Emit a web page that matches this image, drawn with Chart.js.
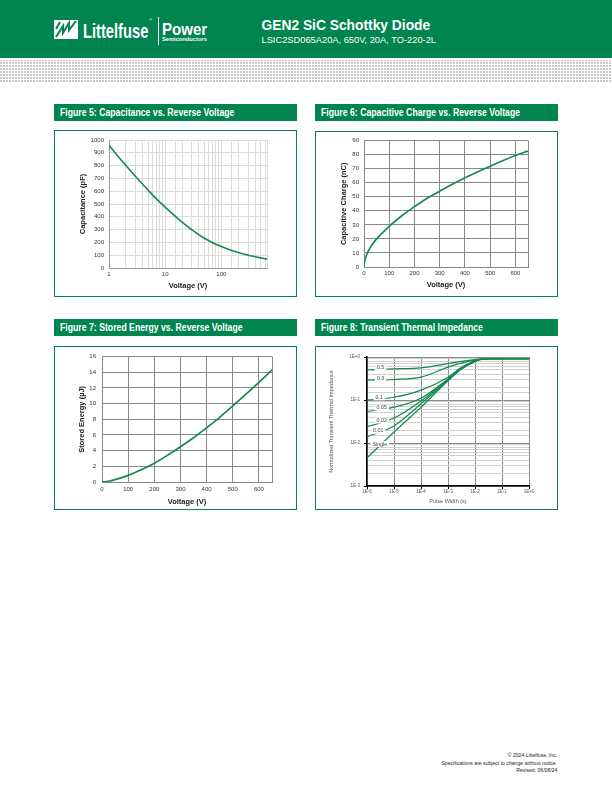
<!DOCTYPE html>
<html>
<head>
<meta charset="utf-8">
<script src="https://cdn.jsdelivr.net/npm/chart.js@4.4.1/dist/chart.umd.min.js"></script>
<style>
  body { margin: 0; width: 612px; height: 792px; position: relative; overflow: hidden; background: #fff;
         font-family: "Liberation Sans", Arial, sans-serif; }
  .abs { position: absolute; white-space: nowrap; }
  .hd { color: #fff; line-height: 1; }
  .header { left: 0; top: 0; width: 612px; height: 58px; background: #008450; }
  .band { left: 0; top: 60px; width: 612px; height: 23px;
          background-image: repeating-linear-gradient(0deg, #fff 0 1px, transparent 1px 3px),
                            repeating-linear-gradient(90deg, #c8c8c8 0 2px, #fff 2px 3px); }
  .cond { display: inline-block; transform-origin: left center; }
  .fig-title { height: 17px; width: 243px; background: #008450; color: #fff; font-weight: bold;
               font-size: 10px; line-height: 17px; }
  .fig-title span { margin-left: 6px; transform: scaleX(0.87); }
  .box { border: 1px solid #008450; width: 241px; }
  canvas { position: absolute; }
  .foot { right: 55px; font-size: 6px; color: #222; text-align: right; transform-origin: right center; transform: scaleX(0.85); }
</style>
</head>
<body>
<div class="abs header"></div>
<div class="abs band"></div>

<!-- logo -->
<svg class="abs" style="left:54px;top:20px" width="24" height="19" viewBox="0 0 24 19">
  <rect x="0" y="0" width="24" height="19" fill="#fff"/>
  <polyline points="2,17 9,6 9,13 15,3 15,10 22,1" fill="none" stroke="#008450" stroke-width="2"/>
  <polyline points="2,9 6,2" fill="none" stroke="#008450" stroke-width="2"/>
</svg>
<div class="abs hd" style="left:83px;top:20.2px;font-weight:bold;font-size:21px;">
  <span class="cond" style="transform:scaleX(0.7)">Littelfuse</span></div>
<div class="abs hd" style="left:149px;top:18px;font-size:4px;">®</div>
<div class="abs" style="left:158px;top:17px;width:1px;height:28px;background:#fff"></div>
<div class="abs hd" style="left:162px;top:21.5px;font-weight:bold;font-size:16px;">
  <span class="cond" style="transform:scaleX(0.94)">Power</span></div>
<div class="abs hd" style="left:162px;top:36.8px;font-weight:bold;font-size:5.5px;">
  <span class="cond" style="transform:scaleX(1.04)">Semiconductors</span></div>

<div class="abs hd" style="left:261.5px;top:19px;font-weight:bold;font-size:13.8px;">GEN2 SiC Schottky Diode</div>
<div class="abs hd" style="left:261.5px;top:36.4px;font-size:9.3px;">LSIC2SD065A20A, 650V, 20A, TO-220-2L</div>

<!-- figure titles and frames -->
<div class="abs fig-title" style="left:54px;top:104px"><span class="cond">Figure 5: Capacitance vs. Reverse Voltage</span></div>
<div class="abs fig-title" style="left:315px;top:104px"><span class="cond">Figure 6: Capacitive Charge vs. Reverse Voltage</span></div>
<div class="abs fig-title" style="left:54px;top:319px"><span class="cond">Figure 7: Stored Energy vs. Reverse Voltage</span></div>
<div class="abs fig-title" style="left:315px;top:319px"><span class="cond">Figure 8: Transient Thermal Impedance</span></div>

<div class="abs box" style="left:54px;top:130px;height:165px"></div>
<div class="abs box" style="left:315px;top:131px;height:164px"></div>
<div class="abs box" style="left:54px;top:346px;height:162px"></div>
<div class="abs box" style="left:315px;top:346px;height:162px"></div>

<canvas id="fig5" width="241" height="165" style="left:55px;top:131px"></canvas>
<canvas id="fig6" width="241" height="164" style="left:316px;top:132px"></canvas>
<canvas id="fig7" width="241" height="162" style="left:55px;top:347px"></canvas>
<canvas id="fig8" width="241" height="162" style="left:316px;top:347px"></canvas>

<div class="abs foot" style="top:752px">© 2024 Littelfuse, Inc.</div>
<div class="abs foot" style="top:759.5px">Specifications are subject to change without notice.</div>
<div class="abs foot" style="top:767px">Revised: 06/08/24</div>

<script>
// Figure 5 : capacite vs tension (axe x log)
const fig5Voltage = [1, 2, 3, 5, 7, 10, 15, 20, 30, 50, 70, 100, 150, 200, 300, 400, 500, 650];
const fig5Capacitance = [958, 800, 713, 607, 540, 475, 405, 358, 298, 232, 198, 168, 138, 121, 100, 88, 79, 69];

// Figure 6 : charge capacitive
const fig6Voltage = [0, 2, 5, 10, 25, 50, 100, 150, 200, 250, 300, 400, 500, 600, 650];
const fig6Charge = [0, 3.5, 5.8, 8.4, 14, 20, 29, 36.5, 43, 49, 54, 63.5, 71.8, 79.4, 82.5];

// Figure 7 : energie stockee
const fig7Voltage = [0, 25, 50, 100, 150, 200, 250, 300, 350, 400, 450, 500, 550, 600, 650];
const fig7Energy = [0, 0.1, 0.3, 0.85, 1.55, 2.4, 3.4, 4.5, 5.65, 6.9, 8.25, 9.7, 11.2, 12.7, 14.3];

// graduations de tension communes aux figures 6 et 7
const voltTicks = [0, 100, 200, 300, 400, 500, 600, 650];

// Figure 8 : impedance thermique transitoire
const fig8PulseWidth = [1e-6, 1e-5, 1e-4, 1e-3, 3e-3, 1e-2, 2e-2, 4e-2, 1e-1, 1];
const fig8Duty = ['0.5', '0.3', '0.1', '0.05', '0.02', '0.01', 'Single'];
const z05 = [0.50, 0.53, 0.56, 0.70, 0.79, 0.87, 0.91, 0.92, 0.92, 0.92];
const z03 = [0.29, 0.30, 0.34, 0.58, 0.72, 0.85, 0.905, 0.92, 0.92, 0.92];
const z01 = [0.10, 0.116, 0.17, 0.34, 0.56, 0.82, 0.90, 0.92, 0.92, 0.92];
const z005 = [0.054, 0.068, 0.11, 0.31, 0.54, 0.81, 0.90, 0.92, 0.92, 0.92];
const z002 = [0.024, 0.038, 0.095, 0.30, 0.53, 0.80, 0.90, 0.92, 0.92, 0.92];
const z001 = [0.014, 0.025, 0.082, 0.29, 0.52, 0.80, 0.90, 0.92, 0.92, 0.92];
const zSingle = [0.0045, 0.018, 0.068, 0.28, 0.51, 0.79, 0.90, 0.92, 0.92, 0.92];
const fig8Curves = [z05, z03, z01, z005, z002, z001, zSingle];
const fig8LabelAt = [3.2e-6, 3.2e-6, 2.8e-6, 3.5e-6, 3.5e-6, 2.6e-6, 3e-6];

const LINE = '#138a4e';
const FONT = '"Liberation Sans", Arial, sans-serif';
Chart.defaults.font.family = FONT;
Chart.defaults.color = '#333';

const isPow10 = v => {
  const e = Math.round(Math.log10(v));
  return Math.abs(v / Math.pow(10, e) - 1) < 1e-6;
};
const sciLabel = v => {
  const e = Math.round(Math.log10(v));
  return '1E' + (e >= 0 ? '+' : '-') + Math.abs(e);
};
const pairs = (xs, ys) => xs.map((x, i) => ({ x: x, y: ys[i] }));

const baseOptions = (pad) => ({
  responsive: false,
  animation: false,
  layout: { padding: pad },
  plugins: { legend: { display: false }, tooltip: { enabled: false } },
});

const axisTitle = (text) => ({
  display: true, text: text, padding: 0, color: '#222',
  font: { size: 7.5, weight: 'bold' },
});

const voltAxis = (xHeight, pad) => ({
  type: 'linear', min: 0, max: 650,
  afterFit: (s) => { s.height = xHeight; },
  afterBuildTicks: (s) => { s.ticks = voltTicks.map((v) => ({ value: v })); },
  grid: { color: '#888', drawTicks: false },
  border: { color: '#888' },
  ticks: {
    autoSkip: false, maxRotation: 0, padding: pad, font: { size: 6 },
    callback: (v) => (v % 100 === 0 ? String(v) : ''),
  },
  title: axisTitle('Voltage (V)'),
});

// Figure 5
new Chart(document.getElementById('fig5'), {
  type: 'line',
  data: {
    datasets: [{
      data: pairs(fig5Voltage, fig5Capacitance),
      borderColor: LINE, borderWidth: 1.6, pointRadius: 0, cubicInterpolationMode: 'monotone',
    }],
  },
  options: {
    ...baseOptions({ left: 23, top: 9, right: 29, bottom: 5.5 }),
    scales: {
      x: {
        type: 'logarithmic', min: 1, max: 650,
        afterFit: (s) => { s.height = 22.5; },
        grid: { color: '#dcdcdc', drawTicks: false },
        border: { color: '#999' },
        ticks: {
          autoSkip: false, maxRotation: 0, padding: 3, font: { size: 6 },
          callback: (v) => (isPow10(v) ? String(v) : ''),
        },
        title: axisTitle('Voltage (V)'),
      },
      y: {
        min: 0, max: 1000,
        afterFit: (s) => { s.width = 31; },
        grid: { color: '#dcdcdc', drawTicks: false },
        border: { color: '#999' },
        ticks: { stepSize: 100, padding: 5, font: { size: 6 }, callback: (v) => String(v) },
        title: axisTitle('Capacitance (pF)'),
      },
    },
  },
});

// Figure 6
new Chart(document.getElementById('fig6'), {
  type: 'line',
  data: {
    datasets: [{
      data: pairs(fig6Voltage, fig6Charge),
      borderColor: LINE, borderWidth: 1.7, pointRadius: 0, cubicInterpolationMode: 'monotone',
    }],
  },
  options: {
    ...baseOptions({ left: 23.5, top: 8, right: 29, bottom: 6.5 }),
    scales: {
      x: voltAxis(22.5, 3),
      y: {
        min: 0, max: 90,
        afterFit: (s) => { s.width = 24.5; },
        grid: { color: '#888', drawTicks: false },
        border: { color: '#888' },
        ticks: { stepSize: 10, padding: 5, font: { size: 6 } },
        title: axisTitle('Capacitive Charge (nC)'),
      },
    },
  },
});

// Figure 7
new Chart(document.getElementById('fig7'), {
  type: 'line',
  data: {
    datasets: [{
      data: pairs(fig7Voltage, fig7Energy),
      borderColor: LINE, borderWidth: 1.7, pointRadius: 0, cubicInterpolationMode: 'monotone',
    }],
  },
  options: {
    ...baseOptions({ left: 22.5, top: 3, right: 24, bottom: 2.5 }),
    scales: {
      x: voltAxis(24.5, 4),
      y: {
        min: 0, max: 16,
        afterFit: (s) => { s.width = 24.5; },
        grid: { color: '#888', drawTicks: false },
        border: { color: '#888' },
        ticks: { stepSize: 2, padding: 6, font: { size: 6 } },
        title: axisTitle('Stored Energy (µJ)'),
      },
    },
  },
});

// Etiquettes posees sur les courbes de la figure 8
const curveLabels = {
  id: 'curveLabels',
  afterDatasetsDraw(chart) {
    const { ctx } = chart;
    const xs = chart.scales.x;
    ctx.save();
    ctx.font = '5.3px ' + FONT;
    ctx.textAlign = 'center';
    ctx.textBaseline = 'middle';
    chart.data.datasets.forEach((ds, i) => {
      const pts = chart.getDatasetMeta(i).data;
      const px = xs.getPixelForValue(fig8LabelAt[i]);
      let py = pts[0].y;
      for (let k = 1; k < pts.length; k++) {
        if (pts[k].x >= px) {
          const a = pts[k - 1], b = pts[k];
          py = a.y + (b.y - a.y) * (px - a.x) / (b.x - a.x);
          break;
        }
      }
      py -= 1.5;
      const w = ctx.measureText(ds.label).width + 4;
      ctx.fillStyle = '#fff';
      ctx.fillRect(px - w / 2, py - 3, w, 6);
      ctx.fillStyle = '#444';
      ctx.fillText(ds.label, px, py);
    });
    ctx.restore();
  },
};

// Figure 8
new Chart(document.getElementById('fig8'), {
  type: 'line',
  data: {
    datasets: fig8Curves.map((c, i) => ({
      label: fig8Duty[i],
      data: pairs(fig8PulseWidth, c),
      borderColor: LINE, borderWidth: 1.2, pointRadius: 0, cubicInterpolationMode: 'monotone',
    })),
  },
  options: {
    ...baseOptions({ left: 11.7, top: 10, right: 28, bottom: 4.7 }),
    scales: {
      x: {
        type: 'logarithmic', min: 1e-6, max: 1,
        afterFit: (s) => { s.height = 18.3; },
        grid: {
          tickLength: 3,
          color: (c) => (c.tick && isPow10(c.tick.value) ? '#8a8a8a' : 'rgba(0,0,0,0)'),
          tickColor: (c) => (c.tick && isPow10(c.tick.value) ? '#000' : 'rgba(0,0,0,0)'),
        },
        border: { color: '#000', width: 1.5 },
        ticks: {
          autoSkip: false, maxRotation: 0, padding: 0, font: { size: 4.5 }, color: '#555',
          callback: (v) => (isPow10(v) ? sciLabel(v) : ''),
        },
        title: { display: true, text: 'Pulse Width (s)', padding: 0, color: '#555', font: { size: 5.5 } },
      },
      y: {
        type: 'logarithmic', min: 1e-3, max: 1,
        afterFit: (s) => { s.width = 39.3; },
        grid: {
          tickLength: 3,
          color: (c) => (c.tick && isPow10(c.tick.value) ? '#8a8a8a' : '#d0d0d0'),
          tickColor: (c) => (c.tick && isPow10(c.tick.value) ? '#000' : 'rgba(0,0,0,0)'),
        },
        border: { color: '#000', width: 1.5 },
        ticks: {
          autoSkip: false, padding: 4, font: { size: 4.5 }, color: '#555',
          callback: (v) => (isPow10(v) ? sciLabel(v) : ''),
        },
        title: { display: true, text: 'Normalized Transient Thermal Impedance', padding: 0, color: '#555', font: { size: 5.5 } },
      },
    },
  },
  plugins: [curveLabels],
});
</script>
</body>
</html>
